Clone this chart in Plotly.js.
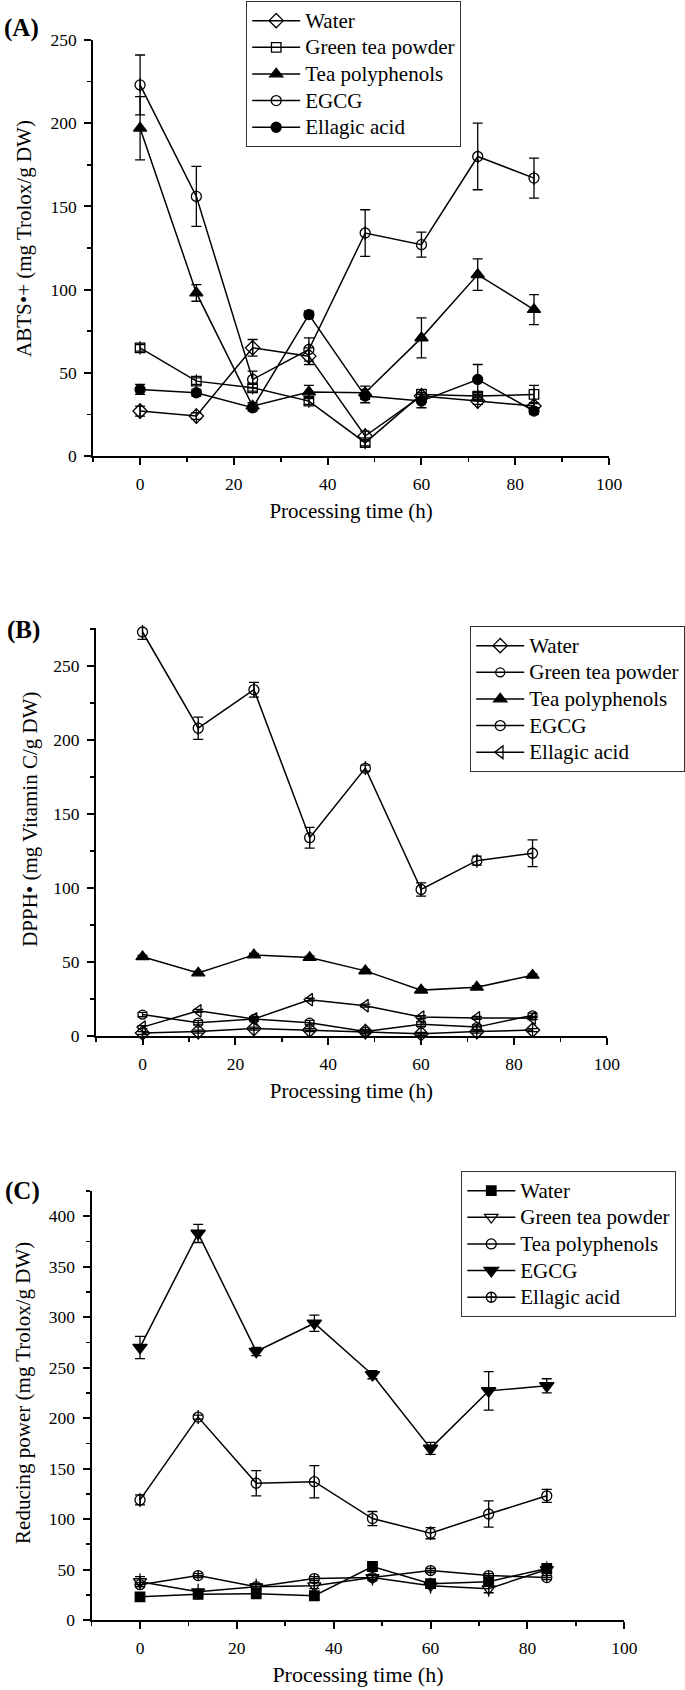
<!DOCTYPE html>
<html>
<head>
<meta charset="utf-8">
<script src="https://cdn.plot.ly/plotly-3.0.1.min.js"></script>
<style>html,body{margin:0;padding:0;background:#fff;}#chart{width:685px;height:1690px;}</style>
</head>
<body>
<div id="chart"></div>
<script>
// ---------- data ----------
const time = [0, 12, 24, 36, 48, 60, 72, 84];
const seriesNames = ["Water", "Green tea powder", "Tea polyphenols", "EGCG", "Ellagic acid"];

// (A) ABTS•+ (mg Trolox/g DW)
const abtsWater = [27, 24, 65, 60, 12, 36, 33, 30];
const abtsWaterErr = [3, 2, 5, 5, 3, 2, 2, 2];
const abtsGreenTea = [65, 45, 41, 33, 8, 37, 36, 37];
const abtsGreenTeaErr = [2, 2, 2, 2, 2, 3, 2, 5.5];
const abtsTeaPoly = [197, 98, 30, 38.5, 38, 71, 109, 88];
const abtsTeaPolyErr = [19, 5, 2, 4, 4, 12, 9.5, 9];
const abtsEGCG = [223, 156, 46, 64, 134, 127, 180, 167];
const abtsEGCGErr = [18, 18, 5, 7, 14, 7.5, 20, 12];
const abtsEllagic = [40, 38, 29, 85, 36, 33, 46, 27];
const abtsEllagicErr = [3, 2, 2, 2, 4, 4, 9, 2];

// (B) DPPH• (mg Vitamin C/g DW)
const dpphWater = [2, 3, 5, 4, 3, 1.5, 3, 4];
const dpphWaterErr = [1, 1, 1, 1, 1, 1, 1, 1];
const dpphGreenTea = [14.5, 9, 11.5, 9, 3, 8, 6, 14];
const dpphGreenTeaErr = [1.5, 1.5, 1.5, 1.5, 1.5, 1.5, 1.5, 1.5];
const dpphTeaPoly = [53.5, 42.6, 54.8, 53, 44, 31, 33, 41];
const dpphTeaPolyErr = [1, 1, 1, 1, 1, 1, 1, 1];
const dpphEGCG = [273, 208, 234, 134, 181, 99, 118.5, 123.5];
const dpphEGCGErr = [5, 7.5, 5, 7, 2, 4.5, 3, 9];
const dpphEllagic = [6, 17, 11.5, 24.5, 20.5, 12.8, 12.2, 12];
const dpphEllagicErr = [1, 1, 1, 1, 1, 1, 1, 1];

// (C) Reducing power (mg Trolox/g DW)
const rpWater = [23, 25.5, 26, 24, 53, 36, 38, 51];
const rpWaterErr = [2, 2, 2, 2, 2, 2, 2, 2];
const rpGreenTea = [38, 28, 33, 34, 42, 34, 31, 50];
const rpGreenTeaErr = [5, 2, 3, 3, 3, 2, 4, 3];
const rpTeaPoly = [119, 201, 135.5, 137, 100.5, 86, 105, 123];
const rpTeaPolyErr = [5, 2, 12.5, 16, 7, 5.5, 13, 6.5];
const rpEGCG = [270, 383, 266, 294, 243, 170, 227, 232];
const rpEGCGErr = [11, 9, 4, 8, 4, 6, 19, 7];
const rpEllagic = [35, 44, 33, 41, 42, 49, 44, 42];
const rpEllagicErr = [2, 2, 2, 2, 2, 2, 2, 2];

const xTitle = "Processing time (h)";
const yTitles = ["ABTS\u2022+ (mg Trolox/g DW)", "DPPH\u2022 (mg Vitamin C/g DW)", "Reducing power (mg Trolox/g DW)"];
const panelLabels = ["(A)", "(B)", "(C)"];

// ---------- helpers ----------
const FONT = "Liberation Serif, Times New Roman, serif";
const W = 685, H = 1690;
const dx = (a, b) => [a / W, b / W];
const dy = (top, bottom) => [1 - bottom / H, 1 - top / H];
const legName = s => '<span style="font-size:21px">' + s + '</span>';

const traces = [];
const overlays = [];
function series(xa, ya, leg, name, y, err, symbol, size, bar) {
  traces.push({
    type: "scatter", mode: "lines+markers", x: time, y: y, name: legName(name),
    xaxis: xa, yaxis: ya, legend: leg,
    line: {color: "black", width: 1.5},
    marker: {symbol: symbol, size: size, color: "black",
             line: {color: "black", width: 1.3}},
    error_y: {type: "data", array: err, visible: true, color: "black", thickness: 1.3, width: 5},
    cliponaxis: false
  });
  if (bar) {
    overlays.push({
      type: "scatter", mode: "markers", x: time, y: y, showlegend: false, hoverinfo: "skip",
      xaxis: xa, yaxis: ya,
      marker: {symbol: "line-ns-open", size: size, color: "black", line: {color: "black", width: 1.3}},
      cliponaxis: false
    });
  }
}

// (A)
series("x", "y", "legend", seriesNames[0], abtsWater, abtsWaterErr, "diamond-open", 11, true);
series("x", "y", "legend", seriesNames[1], abtsGreenTea, abtsGreenTeaErr, "square-open", 9.5, true);
series("x", "y", "legend", seriesNames[2], abtsTeaPoly, abtsTeaPolyErr, "triangle-up", 11.5, false);
series("x", "y", "legend", seriesNames[3], abtsEGCG, abtsEGCGErr, "circle-open", 10, true);
series("x", "y", "legend", seriesNames[4], abtsEllagic, abtsEllagicErr, "circle", 10, false);
// (B)
series("x2", "y2", "legend2", seriesNames[0], dpphWater, dpphWaterErr, "diamond-open", 11, true);
series("x2", "y2", "legend2", seriesNames[1], dpphGreenTea, dpphGreenTeaErr, "circle-open", 9, false);
series("x2", "y2", "legend2", seriesNames[2], dpphTeaPoly, dpphTeaPolyErr, "triangle-up", 11.5, false);
series("x2", "y2", "legend2", seriesNames[3], dpphEGCG, dpphEGCGErr, "circle-open", 10, true);
series("x2", "y2", "legend2", seriesNames[4], dpphEllagic, dpphEllagicErr, "triangle-left-open", 11, false);
// (C)
series("x3", "y3", "legend3", seriesNames[0], rpWater, rpWaterErr, "square", 9.5, false);
series("x3", "y3", "legend3", seriesNames[1], rpGreenTea, rpGreenTeaErr, "triangle-down-open", 11.5, true);
series("x3", "y3", "legend3", seriesNames[2], rpTeaPoly, rpTeaPolyErr, "circle-open", 10, true);
series("x3", "y3", "legend3", seriesNames[3], rpEGCG, rpEGCGErr, "triangle-down", 12.5, false);
series("x3", "y3", "legend3", seriesNames[4], rpEllagic, rpEllagicErr, "circle-cross-open", 10, false);

// ---------- axes ----------
function xAxis(domain, anchor, titleSize) {
  return {
    domain: domain, anchor: anchor, range: [-10, 100], dtick: 20, tick0: 0,
    showline: true, linecolor: "black", linewidth: 2, mirror: false,
    ticks: "outside", ticklen: 7, tickwidth: 2, tickcolor: "black", ticklabelstandoff: 4,
    minor: {ticks: "outside", dtick: 10, ticklen: 4, tickwidth: 1.6, tickcolor: "black"},
    showgrid: false, zeroline: false,
    tickfont: {family: FONT, size: 17.5, color: "black"},
    title: {text: xTitle, font: {family: FONT, size: titleSize, color: "black"}, standoff: 10}
  };
}
function yAxis(domain, anchor, range) {
  return {
    domain: domain, anchor: anchor, range: range, dtick: 50, tick0: 0,
    showline: true, linecolor: "black", linewidth: 2, mirror: false,
    ticks: "outside", ticklen: 7, tickwidth: 2, tickcolor: "black", ticklabelstandoff: 4,
    minor: {ticks: "outside", dtick: 25, ticklen: 4, tickwidth: 1.6, tickcolor: "black"},
    showgrid: false, zeroline: false,
    tickfont: {family: FONT, size: 17.5, color: "black"}
  };
}
function legendBox(xpx, ypx) {
  return {
    x: xpx / W, y: 1 - ypx / H, xanchor: "left", yanchor: "top",
    bgcolor: "white", bordercolor: "#333", borderwidth: 1.3,
    font: {family: FONT, size: 18.2, color: "black"}, itemwidth: 48,
    tracegroupgap: 0
  };
}
function yTitleAnn(text, xc, yc) {
  return {text: text, x: xc / W, y: 1 - yc / H, xref: "paper", yref: "paper",
          xanchor: "center", yanchor: "middle", textangle: -90, showarrow: false,
          font: {family: FONT, size: 21, color: "black"}};
}
function labelAnn(text, xl, yc) {
  return {text: "<b>" + text + "</b>", x: xl / W, y: 1 - yc / H, xref: "paper", yref: "paper",
          xanchor: "left", yanchor: "middle", showarrow: false,
          font: {family: FONT, size: 25, color: "black"}};
}

const layout = {
  width: W, height: H,
  margin: {l: 0, r: 0, t: 0, b: 0},
  paper_bgcolor: "white", plot_bgcolor: "white",
  xaxis: xAxis(dx(93.6, 611.7), "y", 21),
  yaxis: yAxis(dy(40, 456), "x", [0, 250]),
  xaxis2: xAxis(dx(96.5, 609.5), "y2", 21),
  yaxis2: yAxis(dy(628, 1036), "x2", [0, 275.7]),
  xaxis3: xAxis(dx(92, 627), "y3", 22),
  yaxis3: yAxis(dy(1191, 1620), "x3", [0, 425]),
  legend: legendBox(247, 1),
  legend2: legendBox(472, 626),
  legend3: legendBox(463, 1171),
  showlegend: true,
  annotations: [
    labelAnn(panelLabels[0], 2, 28),
    labelAnn(panelLabels[1], 5, 630),
    labelAnn(panelLabels[2], 3, 1191),
    yTitleAnn(yTitles[0], 24, 238),
    yTitleAnn(yTitles[1], 30, 819),
    yTitleAnn(yTitles[2], 23, 1393)
  ]
};

Plotly.newPlot("chart", traces.concat(overlays), layout, {staticPlot: true, displayModeBar: false});
</script>
</body>
</html>
